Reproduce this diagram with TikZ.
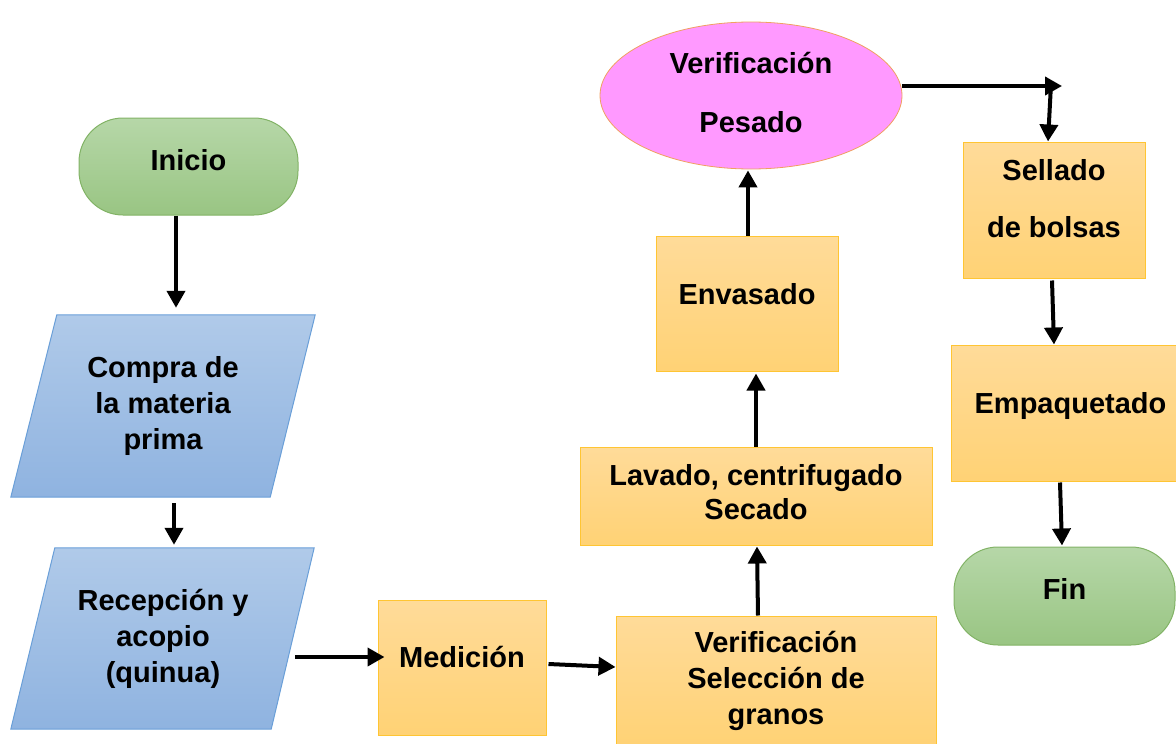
\documentclass[tikz,border=0pt]{standalone}
\usepackage{fontspec}
\setmainfont{Liberation Sans}
\usetikzlibrary{shapes.geometric,arrows.meta,backgrounds}
\definecolor{boxtop}{HTML}{FFDB99}
\definecolor{boxbot}{HTML}{FFD275}
\definecolor{boxline}{HTML}{FFC533}
\definecolor{grtop}{HTML}{B6D7A8}
\definecolor{grbot}{HTML}{99C583}
\definecolor{grline}{HTML}{82B366}
\definecolor{bltop}{HTML}{B0CAE9}
\definecolor{blbot}{HTML}{8FB3E0}
\definecolor{blline}{HTML}{6A9FD8}
\definecolor{pinkfill}{HTML}{FF99FF}
\definecolor{ellline}{HTML}{F0A060}
\newcommand{\padd}[1]{\rule[-#1]{0pt}{0pt}}
\begin{document}
\begin{tikzpicture}[x=1pt,y=-1pt,
  every node/.style={font=\bfseries\fontsize{29}{36}\selectfont, align=center, inner sep=0pt},
  procbox/.style={rectangle, draw=boxline, top color=boxtop, bottom color=boxbot, line width=1pt},
  termbox/.style={rectangle, rounded corners=44pt, draw=grline, top color=grtop, bottom color=grbot, line width=1pt},
  iobox/.style={rectangle},
  iofill/.style={draw=blline, line width=1pt, top color=bltop, bottom color=blbot},
  flow/.style={line width=4pt, -{Triangle[width=18pt,length=17pt]}},
]
\useasboundingbox (0,0) rectangle (1176,744);
\clip (0,0) rectangle (1176,744);

\node[termbox, minimum width=219pt, minimum height=97pt] (inicio) at (188.5,166.5) {Inicio\padd{14pt}};
\node[iobox, minimum width=304pt, minimum height=182pt] (compra) at (163,406) {Compra de\\la materia\\prima};
\node[iobox, minimum width=304pt, minimum height=181pt] (recep) at (163,638.5) {Recepción y\\acopio\\(quinua)};
\node[procbox, minimum width=168pt, minimum height=135pt] (medicion) at (462,667.5) {Medición\padd{21pt}};
\node[procbox, minimum width=320pt, minimum height=130pt] (verif) at (776,681) {Verificación\\Selección de\\granos};
\node[procbox, minimum width=352pt, minimum height=98pt] (lavado) at (756,496) {Lavado, centrifugado\\[-2pt]Secado\padd{8.4pt}};
\node[procbox, minimum width=182pt, minimum height=135pt] (envasado) at (747,303.5) {Envasado\padd{19pt}};
\node[ellipse, draw=ellline, fill=pinkfill, line width=0.8pt, minimum width=302pt, minimum height=147pt] (pesado) at (751,95.5) {Verificación\\[23pt]Pesado\padd{7pt}};
\node[procbox, minimum width=182pt, minimum height=136pt] (sellado) at (1054,210) {Sellado\\[21pt]de bolsas\padd{24pt}};
\node[procbox, minimum width=239pt, minimum height=136pt] (empaq) at (1070.5,413) {Empaquetado\padd{20pt}};
\node[termbox, minimum width=221pt, minimum height=98pt] (fin) at (1064.5,596) {Fin\padd{14pt}};

\begin{scope}[on background layer]
\path[iofill] ([xshift=46pt]compra.north west) -- (compra.north east) -- ([xshift=-45pt]compra.south east) -- (compra.south west) -- cycle;
\path[iofill] ([xshift=44pt]recep.north west) -- ([xshift=-1pt]recep.north east) -- ([xshift=-44pt]recep.south east) -- (recep.south west) -- cycle;
\end{scope}

\coordinate (rtip) at (1062,86);
\coordinate (branch) at (1051,84);

\draw[flow, shorten >=7pt] ([xshift=-12.5pt]inicio.south) -- ([xshift=13pt]compra.north);
\draw[flow, shorten <=6pt, shorten >=3pt] ([xshift=11pt]compra.south) -- ([xshift=11pt]recep.north);
\draw[flow] ([xshift=-20pt,yshift=-18.5pt]recep.east) -- ([xshift=7pt,yshift=10.5pt]medicion.west);
\draw[flow] ([xshift=2pt,yshift=3.5pt]medicion.east) -- ([yshift=14pt]verif.west);
\draw[flow] ([xshift=-18pt]verif.north) -- ([xshift=1pt,yshift=-1pt]lavado.south);
\draw[flow] (lavado.north) -- ([xshift=9pt,yshift=-2pt]envasado.south);
\draw[flow] ([xshift=1pt]envasado.north) -- ([xshift=-3pt,yshift=-1pt]pesado.south);
\draw[flow] ([yshift=9.5pt]pesado.east) -- (rtip);
\draw[flow] (branch) -- ([xshift=-6pt]sellado.north);
\draw[flow] ([xshift=-2pt,yshift=-2pt]sellado.south) -- ([xshift=-16.5pt]empaq.north);
\draw[flow] ([xshift=-10.5pt,yshift=-1pt]empaq.south) -- ([xshift=-2.5pt,yshift=1pt]fin.north);
\end{tikzpicture}
\end{document}
